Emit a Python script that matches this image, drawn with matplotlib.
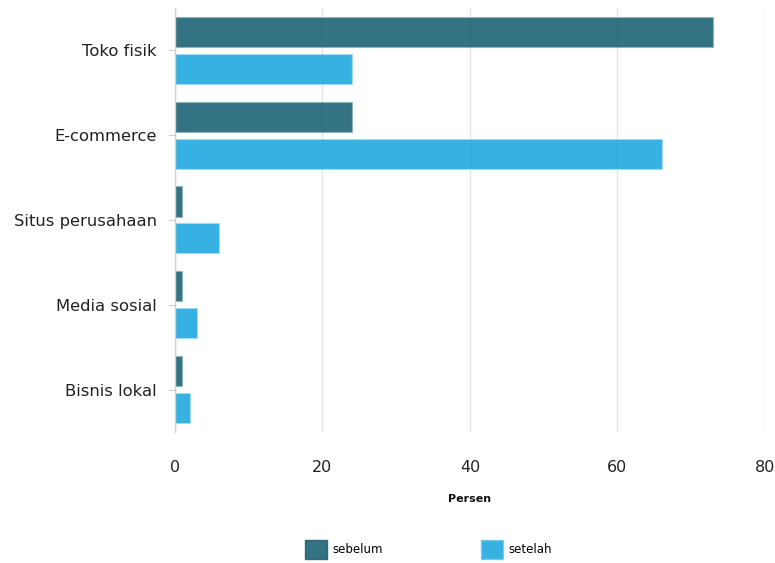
import matplotlib.pyplot as plt
import numpy as np
from matplotlib.patches import Patch

plt.rcParams['font.family'] = ['DejaVu Sans']

# data
kategori = ["Toko fisik", "E-commerce", "Situs perusahaan", "Media sosial", "Bisnis lokal"]
sebelum = [73, 24, 1, 1, 1]
setelah = [24, 66, 6, 3, 2]
xticks = [0, 20, 40, 60, 80]

warna_sebelum = '#0f5a6d'
warna_setelah = '#13a4dd'

fig = plt.figure(figsize=(7.75, 5.63), dpi=100)
ax = fig.add_axes([0.2258, 0.2327, 0.7612, 0.7531])

y = np.arange(len(kategori))
tinggi = 0.354
geser = 0.218

ax.barh(y - geser, sebelum, height=tinggi, color=warna_sebelum, alpha=0.85,
        edgecolor='#8fb3bd', linewidth=0.8, zorder=2)
ax.barh(y + geser, setelah, height=tinggi, color=warna_setelah, alpha=0.85,
        edgecolor='#9fdcf3', linewidth=0.8, zorder=2)

ax.set_ylim(len(kategori) - 0.5, -0.5)
ax.set_xlim(0, 80)
ax.set_yticks(y)
ax.set_yticklabels(kategori, fontsize=11.8, color='#222222')
ax.set_xticks(xticks)
ax.set_xticklabels([str(t) for t in xticks], fontsize=11.5, color='#222222')

ax.grid(axis='x', color='#e3e3e3', linewidth=1, zorder=1)
ax.tick_params(axis='y', length=5, color='#d0d0d0', pad=8)
ax.tick_params(axis='x', length=0, pad=20)

for s in ['top', 'right', 'bottom']:
    ax.spines[s].set_visible(False)
ax.spines['left'].set_color('#d0d0d0')
ax.spines['left'].set_linewidth(1)

ax.set_xlabel("Persen", fontsize=8, fontweight='bold', labelpad=14, color='#111111')

handles = [Patch(facecolor=warna_sebelum, alpha=0.85, edgecolor='#1f5a68', label='sebelum'),
           Patch(facecolor=warna_setelah, alpha=0.85, edgecolor='#6ccbf0', label='setelah')]
fig.legend(handles=handles, loc='center', bbox_to_anchor=(0.553, 0.024), ncol=2,
           frameon=False, fontsize=8.5, handlelength=1.85, handleheight=2.1,
           columnspacing=8.3, handletextpad=0.5)

plt.savefig("out.png", dpi=100)
plt.close()
